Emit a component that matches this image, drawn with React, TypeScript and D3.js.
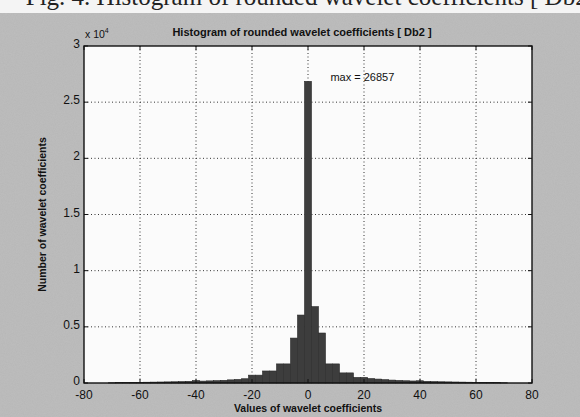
import React, { useEffect, useRef } from "react";
import * as d3 from "d3";

// histogram bins (centre of each bin) and counts
const binCenters = [
  -70, -67.5, -65, -62.5, -60, -57.5, -55, -52.5, -50, -47.5, -45, -42.5, -40, -37.5, -35, -32.5,
  -30, -27.5, -25, -22.5, -20, -17.5, -15, -12.5, -10, -7.5, -5, -2.5, 0, 2.5, 5, 7.5, 10, 12.5,
  15, 17.5, 20, 22.5, 25, 27.5, 30, 32.5, 35, 37.5, 40, 42.5, 45, 47.5, 50, 52.5, 55, 57.5, 60,
  62.5, 65, 67.5, 70,
];
const counts = [
  20, 30, 40, 50, 60, 70, 80, 90, 100, 110, 130, 150, 220, 170, 190, 210,
  240, 280, 320, 380, 700, 700, 1070, 1070, 1700, 1700, 4000, 6050, 26857, 6800, 4450, 1700, 1700, 900,
  900, 500, 500, 400, 350, 300, 260, 230, 200, 180, 200, 150, 130, 110, 100, 90, 80, 70, 60,
  50, 40, 30, 20,
];
const binWidth = 2.5;
const xTicks = [-80, -60, -40, -20, 0, 20, 40, 60, 80];
const yTicks = [0, 5000, 10000, 15000, 20000, 25000, 30000];
const yTickLabels = ["0", "0.5", "1", "1.5", "2", "2.5", "3"];

const App = () => {
  const svgRef = useRef<SVGSVGElement>(null);

  useEffect(() => {
    const svg = d3.select(svgRef.current);
    const width = 580;
    const height = 417;
    const margin = { top: 46, right: 48, bottom: 34, left: 84 };
    svg.selectAll("*").remove();

    const font = "'Liberation Sans', Arial, sans-serif";

    // grainy scan texture
    const defs = svg.append("defs");
    const f = defs.append("filter").attr("id", "grain").attr("x", 0).attr("y", 0).attr("width", "100%").attr("height", "100%");
    f.append("feTurbulence").attr("type", "fractalNoise").attr("baseFrequency", 0.9).attr("numOctaves", 2).attr("seed", 3);
    f.append("feColorMatrix").attr("type", "matrix")
      .attr("values", "0 0 0 0 0.45  0 0 0 0 0.45  0 0 0 0 0.45  0 0 0 0.9 -0.25");

    // scanned page background
    svg.append("rect").attr("width", width).attr("height", height).attr("fill", "#bcbcbc");
    svg.append("rect").attr("width", width).attr("height", height).attr("filter", "url(#grain)").attr("opacity", 0.8);
    svg.append("rect").attr("width", width).attr("height", 13).attr("fill", "#f4f4f4");

    // cut-off caption from the page above
    svg.append("text")
      .attr("x", 596)
      .attr("y", 5)
      .attr("text-anchor", "end")
      .attr("font-family", "'Liberation Serif', serif")
      .attr("font-size", 25)
      .attr("fill", "#222")
      .text("Fig. 4. Histogram of rounded wavelet coefficients [ Db2(");

    const x = d3.scaleLinear().domain([-80, 80]).range([margin.left, width - margin.right]);
    const y = d3.scaleLinear().domain([0, 30000]).range([height - margin.bottom, margin.top]);

    const x0 = x(-80), x1 = x(80), y0 = y(0), y1 = y(30000);

    svg.append("rect")
      .attr("x", x0).attr("y", y1)
      .attr("width", x1 - x0).attr("height", y0 - y1)
      .attr("fill", "#fbfbfb");

    // dotted grid
    const grid = svg.append("g").attr("stroke", "#333").attr("stroke-width", 1).attr("stroke-dasharray", "1,2.5");
    grid.selectAll(".gx")
      .data(xTicks.slice(1, -1))
      .enter()
      .append("line")
      .attr("x1", (d) => x(d)).attr("x2", (d) => x(d))
      .attr("y1", y0).attr("y2", y1);
    grid.selectAll(".gy")
      .data(yTicks.slice(1, -1))
      .enter()
      .append("line")
      .attr("y1", (d) => y(d)).attr("y2", (d) => y(d))
      .attr("x1", x0).attr("x2", x1);

    // histogram bars
    svg.append("g")
      .selectAll("rect")
      .data(binCenters.map((c, i) => ({ c, n: counts[i] })))
      .enter()
      .append("rect")
      .attr("x", (d) => x(d.c - binWidth / 2))
      .attr("width", (d) => x(d.c + binWidth / 2) - x(d.c - binWidth / 2))
      .attr("y", (d) => y(d.n))
      .attr("height", (d) => y(0) - y(d.n))
      .attr("fill", "#3d3d3d")
      .attr("stroke", "#2a2a2a")
      .attr("stroke-width", 0.6);

    // axes box with inward ticks
    const axes = svg.append("g").attr("stroke", "#111").attr("fill", "none");
    axes.append("rect")
      .attr("x", x0).attr("y", y1)
      .attr("width", x1 - x0).attr("height", y0 - y1)
      .attr("stroke-width", 1.4);
    xTicks.forEach((t) => {
      axes.append("line").attr("x1", x(t)).attr("x2", x(t)).attr("y1", y0).attr("y2", y0 - 4);
      axes.append("line").attr("x1", x(t)).attr("x2", x(t)).attr("y1", y1).attr("y2", y1 + 4);
    });
    yTicks.forEach((t) => {
      axes.append("line").attr("x1", x0).attr("x2", x0 + 4).attr("y1", y(t)).attr("y2", y(t));
      axes.append("line").attr("x1", x1).attr("x2", x1 - 4).attr("y1", y(t)).attr("y2", y(t));
    });

    const txt = svg.append("g").attr("font-family", font).attr("fill", "#111");

    txt.selectAll(".xt")
      .data(xTicks)
      .enter()
      .append("text")
      .attr("x", (d) => x(d))
      .attr("y", y0 + 16)
      .attr("text-anchor", "middle")
      .attr("font-size", 12)
      .text((d) => d);

    txt.selectAll(".yt")
      .data(yTicks)
      .enter()
      .append("text")
      .attr("x", x0 - 4)
      .attr("y", (d) => y(d) + 2)
      .attr("text-anchor", "end")
      .attr("font-size", 12)
      .text((d, i) => yTickLabels[i]);

    // exponent label
    const exp = txt.append("text").attr("x", x0 + 1).attr("y", y1 - 8).attr("font-size", 10.5);
    exp.append("tspan").text("x 10");
    exp.append("tspan").attr("dy", -5).attr("font-size", 7).text("4");

    txt.append("text")
      .attr("x", x0 + 218)
      .attr("y", y1 - 10)
      .attr("text-anchor", "middle")
      .attr("font-size", 11)
      .attr("font-weight", "bold")
      .text("Histogram of rounded wavelet coefficients [ Db2 ]");

    txt.append("text")
      .attr("x", (x0 + x1) / 2)
      .attr("y", height - 5)
      .attr("text-anchor", "middle")
      .attr("font-size", 10.5)
      .attr("font-weight", "bold")
      .text("Values of wavelet coefficients");

    txt.append("text")
      .attr("transform", `translate(${x0 - 38},${(y0 + y1) / 2}) rotate(-90)`)
      .attr("text-anchor", "middle")
      .attr("font-size", 10.5)
      .attr("font-weight", "bold")
      .text("Number of wavelet coefficients");

    txt.append("text")
      .attr("x", x(8))
      .attr("y", y(26900))
      .attr("font-size", 11)
      .text(`max = ${d3.max(counts)}`);
  }, []);

  return (
    <div>
      <svg
        ref={svgRef}
        width={580}
        height={417}
        style={{ position: "absolute", left: 0, top: 0 }}
      ></svg>
    </div>
  );
};

export default App;
